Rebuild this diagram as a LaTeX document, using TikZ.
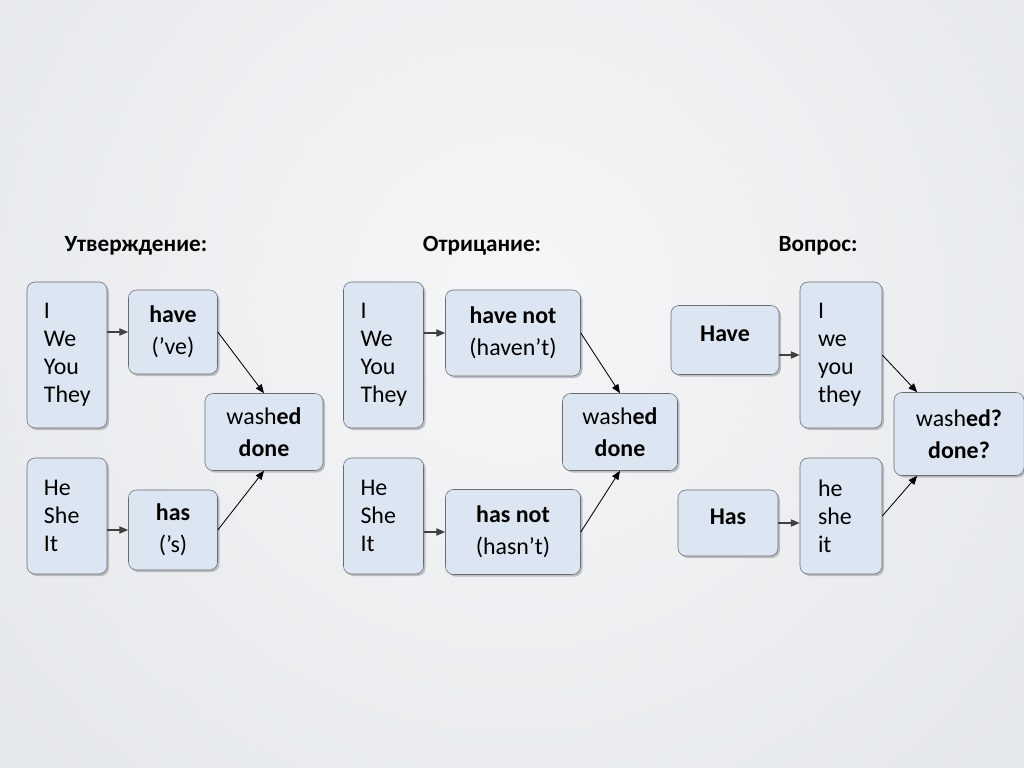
\documentclass[tikz,border=0pt]{standalone}
\usepackage{fontspec}
\setmainfont{Carlito}
\usepackage{xcolor}
\usetikzlibrary{arrows.meta,shadows}
\definecolor{boxfill}{RGB}{220,230,242}
\definecolor{boxline}{RGB}{105,108,112}
\definecolor{bgouter}{RGB}{212,217,223}
\definecolor{bginner}{RGB}{245,246,247}
\tikzset{
  wordbox/.style={draw=boxline,fill=boxfill,rounded corners=0.2cm,align=center,
    inner sep=0pt,font=\fontsize{17}{22.5}\selectfont,
    drop shadow={shadow xshift=0.05cm,shadow yshift=-0.05cm,fill=black!50,opacity=0.45}},
  pronbox/.style={wordbox,align=left,inner xsep=0.425cm,text width=1.15cm,
    font=\fontsize{17}{20}\selectfont},
  titlelabel/.style={font=\fontsize{16.5}{18}\selectfont\bfseries},
  shortarrow/.style={-{Triangle[length=2.2mm,width=1.8mm]},draw=black!75,thick},
  joinarrow/.style={-{Triangle[length=2.2mm,width=1.8mm]},draw=black,semithick}
}

\begin{document}
\begin{tikzpicture}[x=0.025cm,y=-0.025cm]
  % background
  \useasboundingbox (0,0) rectangle (1024,768);
  \fill[bgouter] (0,0) rectangle (1024,768);
  \begin{scope}
    \clip (0,0) rectangle (1024,768);
    \shade[inner color=bginner,outer color=bgouter] (512,300) circle (34cm);
  \end{scope}

  % Утверждение
  \node[titlelabel] (t1) at (136,246) {Утверждение:};
  \node[pronbox,minimum height=3.65cm] (p1) at (67,355) {I\\We\\You\\They};
  \node[wordbox,minimum width=2.225cm,minimum height=2.1cm] (v1) at (173,332) {\textbf{have}\\(’ve)};
  \node[wordbox,minimum width=2.95cm,minimum height=1.925cm] (w1) at (264,432) {wash\textbf{ed}\\\textbf{done}};
  \node[pronbox,minimum height=2.9cm] (q1) at (67,516) {He\\She\\It};
  \node[wordbox,minimum width=2.225cm,minimum height=2cm] (u1) at (173,530) {\textbf{has}\\(’s)};
  \draw[shortarrow] (p1.east |- v1) -- (v1.west);
  \draw[shortarrow] (q1.east |- u1) -- (u1.west);
  \draw[joinarrow] (v1.east) -- (w1.north);
  \draw[joinarrow] (u1.east) -- (w1.south);

  % Отрицание
  \node[titlelabel] (t2) at (482,246) {Отрицание:};
  \node[pronbox,minimum height=3.65cm] (p2) at (383.5,355) {I\\We\\You\\They};
  \node[wordbox,minimum width=3.375cm,minimum height=2.15cm] (v2) at (513,333) {\textbf{have not}\\(haven’t)};
  \node[wordbox,minimum width=2.875cm,minimum height=1.925cm] (w2) at (620,432) {wash\textbf{ed}\\\textbf{done}};
  \node[pronbox,minimum height=2.9cm] (q2) at (383.5,516) {He\\She\\It};
  \node[wordbox,minimum width=3.375cm,minimum height=2.125cm] (u2) at (513,532) {\textbf{has not}\\(hasn’t)};
  \draw[shortarrow] (p2.east |- v2) -- (v2.west);
  \draw[shortarrow] (q2.east |- u2) -- (u2.west);
  \draw[joinarrow] (v2.east) -- (w2.north);
  \draw[joinarrow] (u2.east) -- (w2.south);

  % Вопрос
  \node[titlelabel] (t3) at (818,246) {Вопрос:};
  \node[wordbox,text depth=0.3cm,minimum width=2.7cm,minimum height=1.725cm] (h3) at (725,340) {\textbf{Have}};
  \node[pronbox,inner xsep=0.45cm,minimum height=3.65cm] (p3) at (841,355) {I\\we\\you\\they};
  \node[wordbox,minimum width=3.25cm,minimum height=2.075cm] (w3) at (959,434) {wash\textbf{ed?}\\\textbf{done?}};
  \node[wordbox,text depth=0.3cm,minimum width=2.5cm,minimum height=1.65cm] (h4) at (728,523) {\textbf{Has}};
  \node[pronbox,inner xsep=0.45cm,minimum height=2.9cm] (q3) at (841,516) {he\\she\\it};
  \draw[shortarrow] (h3.east |- p3) -- (p3.west);
  \draw[shortarrow] (h4.east) -- (h4.east -| q3.west);
  \draw[joinarrow] (p3.east) -- (w3.135);
  \draw[joinarrow] (q3.east) -- (w3.225);
\end{tikzpicture}
\end{document}
